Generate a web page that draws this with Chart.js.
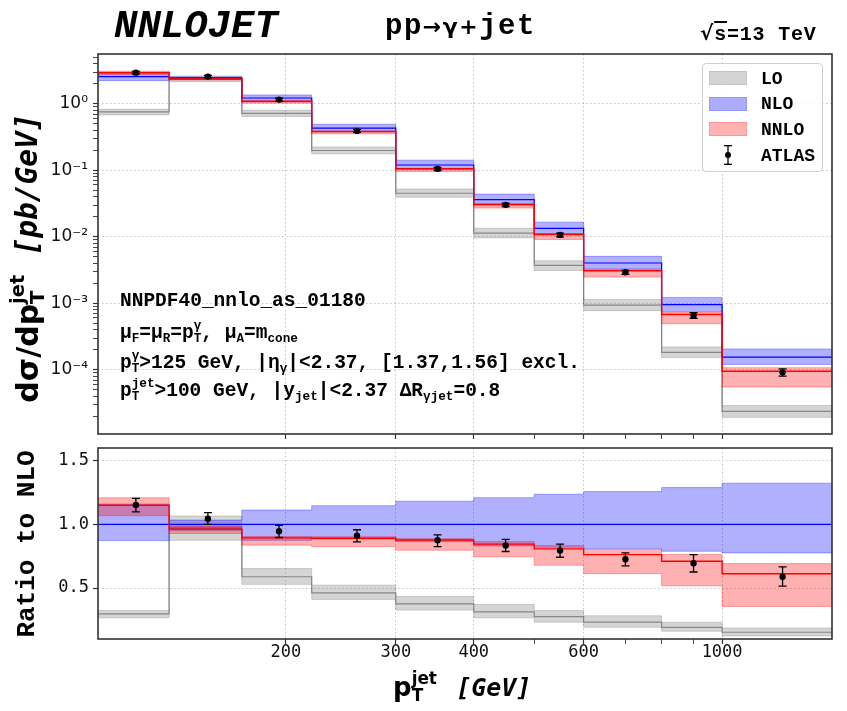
<!DOCTYPE html>
<html lang="en">
<head>
<meta charset="utf-8">
<title>NNLOJET pp→γ+jet</title>
<script src="https://cdn.jsdelivr.net/npm/chart.js@4.4.1/dist/chart.umd.min.js"></script>
<style>
  body { margin: 0; background: #ffffff; }
  #figura { position: relative; width: 847px; height: 711px; overflow: hidden; color: #000; }
  canvas { position: absolute; left: 0; }
  #graficoArriba { top: 0; }
  #graficoAbajo { top: 440px; }
  .t { position: absolute; white-space: nowrap; line-height: 1; font-family: "Liberation Mono", monospace; font-weight: bold; }
  .ss { display: inline-flex; flex-direction: column; font-size: 0.65em; line-height: 1; vertical-align: 0.7em; }
  .sb { font-size: 0.65em; position: relative; top: 0.3em; }
  .mat { font-family: "DejaVu Sans", sans-serif; }
  .rot { transform: translate(-50%, -50%) rotate(-90deg); }
  .gev { font-family: "DejaVu Sans Mono", monospace; font-style: italic; }
  #leyenda { position: absolute; left: 702px; top: 63px; width: 119px; height: 107px; border: 1px solid #d0d0d0; border-radius: 4px; background: rgba(255,255,255,0.85); }
  .parche { position: absolute; left: 6px; width: 36px; height: 12px; border: 1px solid; }
  .etq { position: absolute; left: 58px; font-size: 18px; }
</style>
</head>
<body>
<div id="figura">
  <canvas id="graficoArriba" width="847" height="440"></canvas>
  <canvas id="graficoAbajo" width="847" height="271"></canvas>

  <!-- Cabecera -->
  <div class="t" style="left:114px; top:8px; font-size:39px; font-style:italic;">NNLOJET</div>
  <div class="t" style="left:385px; top:12px; font-size:29px; letter-spacing:1.5px;">pp<span class="mat" style="font-size:22px;">→γ+</span>jet</div>
  <div class="t" style="left:700px; top:23px; font-size:20px; letter-spacing:0.8px;"><span class="mat">√</span><span style="text-decoration:overline;">s</span>=13 TeV</div>

  <!-- Notas del calculo -->
  <div class="t" style="left:120px; top:292px; font-size:19.5px;">NNPDF40_nnlo_as_01180</div>
  <div class="t" style="left:120px; top:320px; font-size:19.5px;">μ<span class="sb">F</span>=μ<span class="sb">R</span>=p<span class="ss"><span>γ</span><span>T</span></span>, μ<span class="sb">A</span>=m<span class="sb">cone</span></div>
  <div class="t" style="left:120px; top:350px; font-size:19.5px;">p<span class="ss"><span>γ</span><span>T</span></span>&gt;125 GeV, |η<span class="sb">γ</span>|&lt;2.37, [1.37,1.56] excl.</div>
  <div class="t" style="left:120px; top:378px; font-size:19.5px;">p<span class="ss"><span>jet</span><span>T</span></span>&gt;100 GeV, |y<span class="sb">jet</span>|&lt;2.37 ΔR<span class="sb">γjet</span>=0.8</div>

  <!-- Leyenda -->
  <div id="leyenda">
    <div class="parche" style="top:7px; background:rgb(212,212,212); border-color:rgb(196,196,196);"></div>
    <div class="t etq" style="top:6px;">LO</div>
    <div class="parche" style="top:33px; background:rgb(172,172,255); border-color:rgb(150,150,255);"></div>
    <div class="t etq" style="top:31px;">NLO</div>
    <div class="parche" style="top:58px; background:rgb(255,178,178); border-color:rgb(255,150,150);"></div>
    <div class="t etq" style="top:57px;">NNLO</div>
    <svg style="position:absolute; left:20px; top:81px;" width="10" height="20">
      <line x1="5" y1="0.5" x2="5" y2="19.5" stroke="#000" stroke-width="1.3"/>
      <line x1="1" y1="0.7" x2="9" y2="0.7" stroke="#000" stroke-width="1.3"/>
      <line x1="1" y1="19.3" x2="9" y2="19.3" stroke="#000" stroke-width="1.3"/>
      <circle cx="5" cy="10" r="3" fill="#000"/>
    </svg>
    <div class="t etq" style="top:83px;">ATLAS</div>
  </div>

  <!-- Titulos de los ejes -->
  <div class="t rot" style="left:27px; top:258px;"><span class="mat" style="font-size:30px;">dσ/dp<span class="ss"><span>jet</span><span>T</span></span></span>&nbsp;&nbsp;<span class="gev" style="font-size:29.5px;">[pb/GeV]</span></div>
  <div class="t rot" style="left:27px; top:544px; font-size:26px;">Ratio to NLO</div>
  <div class="t" style="left:393px; top:670px;"><span class="mat" style="font-size:26px;">p<span class="ss"><span>jet</span><span>T</span></span></span>&nbsp;&nbsp;<span class="gev" style="font-size:25px;">[GeV]</span></div>
</div>

<script>
// Bordes de los bins en pT del jet [GeV]
const bordes = [100, 130, 170, 220, 300, 400, 500, 600, 800, 1000, 1500];
// Centros de los bins, donde van los puntos de ATLAS
const centros = [115, 150, 195, 260, 350, 450, 550, 700, 900, 1250];

// NLO central [pb/GeV]
const nloCentral = [2.55, 2.45, 1.22, 0.429, 0.12, 0.0362, 0.0134, 0.00403, 0.00095, 0.000155];
// Banda de escalas NLO (cociente a NLO)
const nloArriba = [1.16, 1.034, 1.113, 1.147, 1.182, 1.21, 1.237, 1.258, 1.289, 1.324];
const nloAbajo = [0.873, 0.955, 0.875, 0.885, 0.865, 0.83, 0.82, 0.811, 0.789, 0.776];
const nloRatio = [1, 1, 1, 1, 1, 1, 1, 1, 1, 1];

// NNLO (cociente a NLO)
const nnloCentral = [1.15, 0.963, 0.894, 0.891, 0.878, 0.845, 0.808, 0.763, 0.711, 0.613];
const nnloArriba = [1.21, 0.985, 0.905, 0.903, 0.888, 0.865, 0.834, 0.803, 0.763, 0.692];
const nnloAbajo = [1.068, 0.929, 0.837, 0.825, 0.797, 0.745, 0.679, 0.613, 0.518, 0.355];

// LO (cociente a NLO)
const loCentral = [0.297, 0.97, 0.589, 0.462, 0.376, 0.313, 0.276, 0.232, 0.192, 0.153];
const loArriba = [0.324, 1.066, 0.653, 0.523, 0.434, 0.371, 0.324, 0.282, 0.232, 0.187];
const loAbajo = [0.266, 0.875, 0.529, 0.411, 0.327, 0.266, 0.232, 0.192, 0.161, 0.124];

// Datos de ATLAS (cociente a NLO) con sus barras de error
const atlasCentral = [1.152, 1.045, 0.947, 0.911, 0.875, 0.834, 0.795, 0.726, 0.695, 0.589];
const atlasArriba = [1.205, 1.093, 0.992, 0.958, 0.918, 0.882, 0.845, 0.776, 0.763, 0.666];
const atlasAbajo = [1.098, 1.0, 0.897, 0.863, 0.826, 0.787, 0.742, 0.674, 0.626, 0.516];

// Marcas de los ejes
const xMarcas = [200, 300, 400, 500, 600, 700, 800, 900, 1000];
const xEtiquetadas = [200, 300, 400, 600, 1000];
const yMayores = [1, 0.1, 0.01, 0.001, 0.0001];
const yEtiquetas = ["10⁰", "10⁻¹", "10⁻²", "10⁻³", "10⁻⁴"];
const ratioMarcas = [0.5, 1.0, 1.5];
const ratioEtiquetas = ["0.5", "1.0", "1.5"];

// Marcas menores del eje log (2..9 por decada)
const yMarcas = [];
for (let e = -5; e <= 0; e++) {
    for (let m = 1; m <= 9; m++) {
        const v = Number((m * Math.pow(10, e)).toPrecision(6));
        if (v >= 1.08e-5 && v <= 5.6) yMarcas.push(v);
    }
}

Chart.defaults.font.family = "DejaVu Sans";
Chart.defaults.color = "#111";

const AZUL = "rgb(0,0,255)", ROJO = "rgb(255,0,0)", GRIS = "rgba(110,110,110,0.75)";
const AZUL_B = "rgba(0,0,255,0.31)", ROJO_B = "rgba(255,0,0,0.31)", GRIS_B = "rgba(128,128,128,0.33)";

// Convierte valores por bin en puntos de escalon
const escalon = vals => bordes.map((x, i) => ({ x, y: vals[Math.min(i, vals.length - 1)] }));
const absoluto = vals => vals.map((r, i) => r * nloCentral[i]);
const igual = vals => vals;

function linea(vals, color, ancho) {
    return { data: escalon(vals), borderColor: color, borderWidth: ancho, stepped: true, pointRadius: 0, fill: false };
}
function banda(vals, color, relleno) {
    return { data: escalon(vals), borderColor: color, backgroundColor: color, borderWidth: 1, stepped: true, pointRadius: 0, fill: relleno };
}

// El primero se dibuja encima de todos
function conjuntos(t) {
    return [
        {
            data: centros.map((x, i) => ({ x, y: t(atlasCentral)[i] })),
            errArriba: t(atlasArriba), errAbajo: t(atlasAbajo),
            showLine: false, pointRadius: 3.2, pointBackgroundColor: "#000", pointBorderWidth: 0
        },
        linea(t(nnloCentral), ROJO, 1.4),
        banda(t(nnloArriba), ROJO_B, "+1"),
        banda(t(nnloAbajo), ROJO_B, false),
        linea(t(nloRatio), AZUL, 1.2),
        banda(t(nloArriba), AZUL_B, "+1"),
        banda(t(nloAbajo), AZUL_B, false),
        linea(t(loCentral), GRIS, 1.2),
        banda(t(loArriba), GRIS_B, "+1"),
        banda(t(loAbajo), GRIS_B, false)
    ];
}

// Barras de error de ATLAS usando las escalas del grafico
const barrasError = {
    id: "barrasError",
    beforeDatasetDraw(chart, args) {
        const ds = chart.data.datasets[args.index];
        if (!ds.errArriba) return;
        const { ctx, scales: { x, y } } = chart;
        ctx.save();
        ctx.strokeStyle = "#000";
        ctx.lineWidth = 1.3;
        ds.data.forEach((p, i) => {
            const px = x.getPixelForValue(p.x);
            const y1 = y.getPixelForValue(ds.errArriba[i]);
            const y2 = y.getPixelForValue(ds.errAbajo[i]);
            ctx.beginPath();
            ctx.moveTo(px, y1); ctx.lineTo(px, y2);
            ctx.moveTo(px - 4, y1); ctx.lineTo(px + 4, y1);
            ctx.moveTo(px - 4, y2); ctx.lineTo(px + 4, y2);
            ctx.stroke();
        });
        ctx.restore();
    }
};

// Marco completo alrededor del area de datos
const marco = {
    id: "marco",
    afterDraw(chart) {
        const { ctx, chartArea: a } = chart;
        ctx.save();
        ctx.strokeStyle = "#333";
        ctx.lineWidth = 1.6;
        ctx.strokeRect(a.left, a.top, a.right - a.left, a.bottom - a.top);
        ctx.restore();
    }
};

// Tamano fijo del eje, sin relleno automatico por las etiquetas
function fijar(s, ancho, alto) {
    if (ancho) s.width = ancho;
    if (alto) s.height = alto;
    s.paddingTop = 0; s.paddingBottom = 0; s.paddingLeft = 0; s.paddingRight = 0;
}

const esX = c => c.tick && xEtiquetadas.includes(c.tick.value);
const esY = c => c.tick && yMayores.some(m => Math.abs(m - c.tick.value) / m < 1e-6);

function ejeX(conEtiquetas, alto) {
    return {
        type: "logarithmic", min: 100, max: 1500, bounds: "data",
        afterBuildTicks: s => { s.ticks = xMarcas.map(v => ({ value: v })); },
        afterFit: s => fijar(s, 0, alto),
        ticks: {
            autoSkip: false, maxRotation: 0, padding: -2,
            font: { family: "DejaVu Sans Mono", size: 17 },
            callback: v => (conEtiquetas && xEtiquetadas.includes(v)) ? String(v) : ""
        },
        grid: {
            color: c => esX(c) ? "#c4c4c4" : "rgba(0,0,0,0)",
            tickColor: "#333", tickLength: 5,
            tickWidth: c => esX(c) ? 1.2 : 0.9
        },
        border: { display: false, dash: [1.5, 2.5] }
    };
}

// Grafico superior: seccion eficaz diferencial
new Chart(document.getElementById("graficoArriba"), {
    type: "line",
    data: { datasets: conjuntos(absoluto) },
    options: {
        responsive: false, animation: false,
        layout: { autoPadding: false, padding: { left: 0, top: 54, right: 15, bottom: 0 } },
        plugins: { legend: { display: false }, tooltip: { enabled: false } },
        scales: {
            x: ejeX(false, 6),
            y: {
                type: "logarithmic", min: 1.08e-5, max: 5.6, bounds: "data",
                afterBuildTicks: s => { s.ticks = yMarcas.map(v => ({ value: v })); },
                afterFit: s => fijar(s, 98, 0),
                ticks: {
                    autoSkip: false, padding: 5, font: { size: 17 },
                    callback: v => {
                        const k = yMayores.findIndex(m => Math.abs(m - v) / m < 1e-6);
                        return k >= 0 ? yEtiquetas[k] : "";
                    }
                },
                grid: {
                    color: c => esY(c) ? "#c4c4c4" : "rgba(0,0,0,0)",
                    tickColor: "#333", tickLength: 5,
                    tickWidth: c => esY(c) ? 1.2 : 0.9
                },
                border: { display: false, dash: [1.5, 2.5] }
            }
        }
    },
    plugins: [barrasError, marco]
});

// Grafico inferior: cociente a NLO
new Chart(document.getElementById("graficoAbajo"), {
    type: "line",
    data: { datasets: conjuntos(igual) },
    options: {
        responsive: false, animation: false,
        layout: { autoPadding: false, padding: { left: 0, top: 8, right: 15, bottom: 0 } },
        plugins: { legend: { display: false }, tooltip: { enabled: false } },
        scales: {
            x: ejeX(true, 72),
            y: {
                type: "linear", min: 0.1, max: 1.6, bounds: "data",
                afterBuildTicks: s => { s.ticks = ratioMarcas.map(v => ({ value: v })); },
                afterFit: s => fijar(s, 98, 0),
                ticks: {
                    autoSkip: false, padding: 4,
                    font: { family: "DejaVu Sans Mono", size: 17 },
                    callback: v => ratioEtiquetas[ratioMarcas.findIndex(m => Math.abs(m - v) < 1e-6)] || ""
                },
                grid: { color: "#c4c4c4", tickColor: "#333", tickLength: 5, tickWidth: 1.2 },
                border: { display: false, dash: [1.5, 2.5] }
            }
        }
    },
    plugins: [barrasError, marco]
});
</script>
</body>
</html>
